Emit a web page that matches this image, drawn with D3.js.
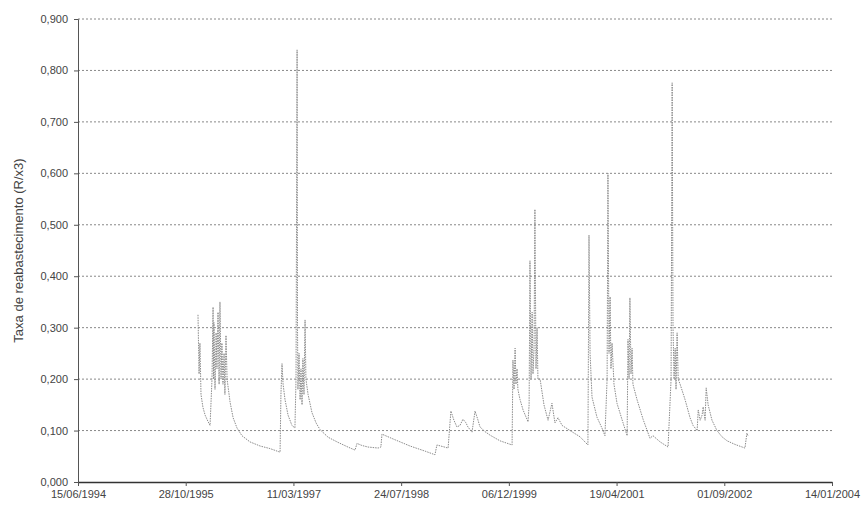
<!DOCTYPE html>
<html>
<head>
<meta charset="utf-8">
<script src="https://cdn.jsdelivr.net/npm/d3@7"></script>
<style>
  body { margin: 0; background: #fff; }
  svg { display: block; font-family: "Liberation Sans", Arial, sans-serif; }
</style>
</head>
<body>
<svg id="chart" width="865" height="509"></svg>
<script>
// ---- data ----
const seriesStart = "15/06/1994";
const xTickLabels = ["15/06/1994","28/10/1995","11/03/1997","24/07/1998","06/12/1999","19/04/2001","01/09/2002","14/01/2004"];
const yTicks = [0, 0.1, 0.2, 0.3, 0.4, 0.5, 0.6, 0.7, 0.8, 0.9];
const yTitle = "Taxa de reabastecimento (R/x3)";
// days elapsed since seriesStart
const days = [557,562,566,571,580,590,603,613,622,627,629,631,636,641,645,650,655,659,664,668,673,678,682,687,692,706,720,738,761,798,845,891,938,
  942,947,952,961,975,993,1007,1012,1017,1019,1021,1026,1031,1035,1040,1044,1049,1054,1058,1068,1086,1105,1123,1161,1207,1253,1286,1295,1318,1346,1393,1406,1411,1472,1541,1611,1657,1666,1718,1731,1745,1759,1773,1787,1801,1810,1829,1843,1857,1866,1889,1913,1959,2015,
  2019,2024,2029,2033,2038,2042,2052,2066,2089,2094,2098,2103,2108,2112,2117,2121,2126,2131,2135,2145,2163,2182,2200,2214,2228,2247,2284,2330,2367,2372,2377,2386,2409,2432,2446,2456,2460,2465,2470,2474,2479,2488,2502,2530,2549,2553,2558,2562,2567,2572,2576,2595,2623,2655,2669,2702,2739,
  2753,2758,2762,2767,2772,2776,2781,2786,2795,2818,2841,2855,2874,2879,2888,2897,2902,2911,2916,2925,2943,2966,2989,3013,3050,3096,3105,3110];
const values = [0.325,0.21,0.27,0.17,0.145,0.13,0.118,0.11,0.2,0.34,0.2,0.31,0.18,0.29,0.22,0.33,0.19,0.35,0.2,0.27,0.19,0.25,0.17,0.285,0.2,0.155,0.125,0.105,0.09,0.078,0.07,0.065,0.058,
  0.17,0.23,0.19,0.16,0.13,0.11,0.105,0.2,0.84,0.3,0.18,0.25,0.16,0.22,0.15,0.24,0.17,0.315,0.2,0.17,0.135,0.115,0.102,0.087,0.077,0.068,0.062,0.075,0.071,0.068,0.066,0.068,0.093,0.082,0.07,0.06,0.053,0.072,0.066,0.138,0.12,0.107,0.11,0.122,0.115,0.107,0.097,0.138,0.12,0.107,0.098,0.091,0.08,0.072,
  0.237,0.18,0.26,0.19,0.22,0.18,0.16,0.14,0.117,0.15,0.43,0.2,0.33,0.21,0.26,0.53,0.22,0.3,0.2,0.2,0.15,0.12,0.153,0.115,0.125,0.11,0.1,0.088,0.072,0.48,0.25,0.165,0.126,0.105,0.09,0.2,0.6,0.25,0.36,0.22,0.27,0.19,0.153,0.115,0.09,0.277,0.2,0.358,0.21,0.26,0.19,0.16,0.122,0.085,0.09,0.078,0.068,
  0.2,0.776,0.3,0.2,0.26,0.18,0.29,0.2,0.19,0.16,0.125,0.11,0.1,0.14,0.12,0.13,0.146,0.12,0.183,0.15,0.12,0.1,0.088,0.08,0.073,0.066,0.095,0.09];

// ---- chart ----
const parse = d3.utcParse("%d/%m/%Y");
const fmtX = d3.utcFormat("%d/%m/%Y");
const locale = d3.formatLocale({decimal: ",", thousands: ".", grouping: [3], currency: ["", ""]});
const fmtY = locale.format(".3f");

const start = parse(seriesStart);
const tickDates = xTickLabels.map(parse);
const data = days.map((d, i) => ({date: d3.utcDay.offset(start, d), value: values[i]}));

const svg = d3.select("#chart");
const x = d3.scaleUtc().domain([tickDates[0], tickDates[tickDates.length - 1]]).range([78, 832]);
const y = d3.scaleLinear().domain([0, 0.9]).range([482, 19]);

// gridlines
svg.append("g")
  .selectAll("line")
  .data(yTicks.filter(t => t > 0))
  .join("line")
  .attr("x1", x.range()[0]).attr("x2", x.range()[1])
  .attr("y1", d => y(d)).attr("y2", d => y(d))
  .attr("stroke", "#888").attr("stroke-width", 1)
  .attr("stroke-dasharray", "2,2");

// y axis
const yAxis = svg.append("g")
  .attr("transform", `translate(${x.range()[0]},0)`)
  .call(d3.axisLeft(y).tickValues(yTicks).tickFormat(fmtY).tickSize(4).tickPadding(6));
yAxis.select(".domain").attr("stroke", "#555");
yAxis.selectAll(".tick line").attr("stroke", "#555");
yAxis.selectAll("text").attr("font-size", 11).attr("fill", "#444")
  .attr("font-family", "Liberation Sans, Arial, sans-serif");

// x axis
const xAxis = svg.append("g")
  .attr("transform", `translate(0,${y(0)})`)
  .call(d3.axisBottom(x).tickValues(tickDates).tickFormat(fmtX).tickSize(4).tickSizeOuter(0).tickPadding(4));
xAxis.select(".domain").attr("stroke", "#333").attr("stroke-width", 1.5);
xAxis.selectAll(".tick line").attr("stroke", "#555");
xAxis.selectAll("text").attr("font-size", 11).attr("fill", "#444")
  .attr("font-family", "Liberation Sans, Arial, sans-serif");

// line
const line = d3.line().x(d => x(d.date)).y(d => y(d.value));
svg.append("path")
  .datum(data)
  .attr("d", line)
  .attr("fill", "none")
  .attr("stroke", "#8c8c8c")
  .attr("stroke-width", 1)
  .attr("stroke-dasharray", "1.5,1")
  .attr("stroke-linejoin", "round");

// y title
svg.append("text")
  .attr("transform", `translate(23,${y(0.45)}) rotate(-90)`)
  .attr("text-anchor", "middle")
  .attr("font-size", 13)
  .attr("fill", "#444")
  .text(yTitle);
</script>
</body>
</html>
